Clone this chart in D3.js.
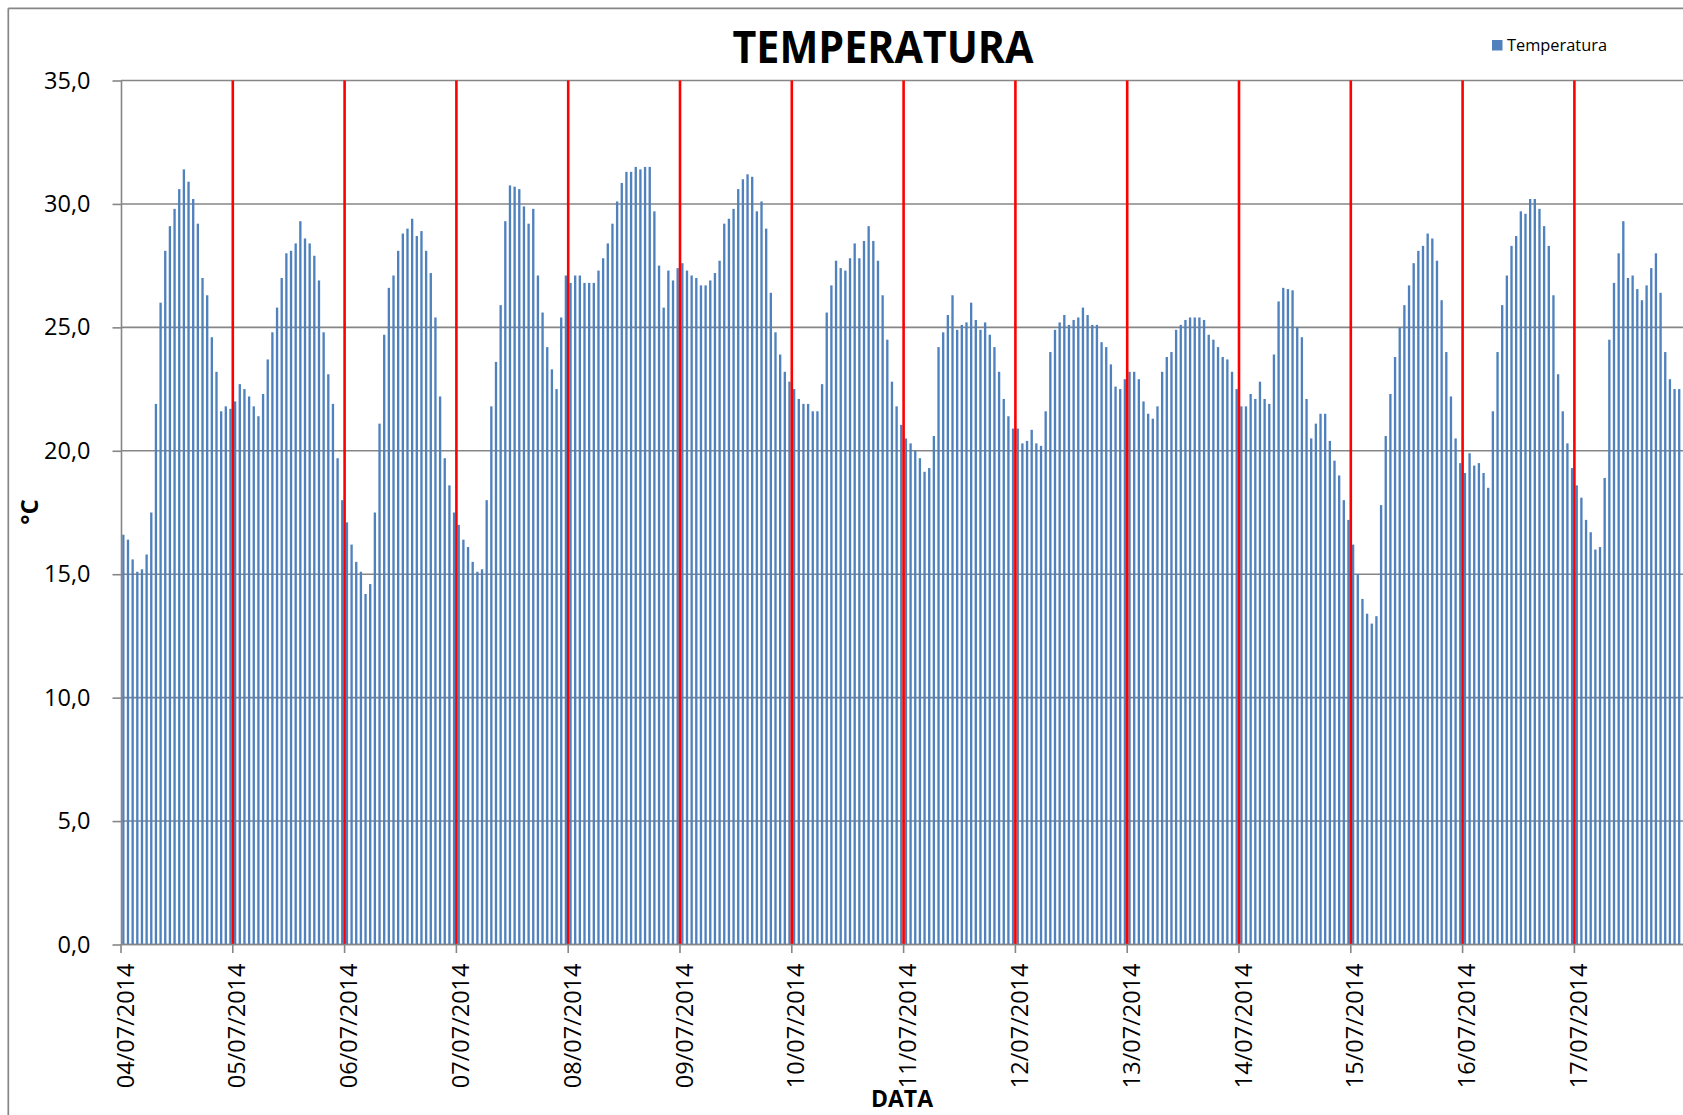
<!DOCTYPE html>
<html><head><meta charset="utf-8">
<script src="https://cdn.jsdelivr.net/npm/d3@7"></script>
<style>
html,body{margin:0;padding:0;background:#fff;overflow:hidden}
svg{display:block}
text{font-family:"Open Sans",sans-serif;fill:#000}
</style></head><body>
<svg id="c" width="1683" height="1115"></svg>
<script>
// ---- data ----
const chartTitle = "TEMPERATURA";
const seriesName = "Temperatura";
const yTitle = "°C";
const xTitle = "DATA";
const dayLabels = ["04/07/2014","05/07/2014","06/07/2014","07/07/2014","08/07/2014","09/07/2014","10/07/2014",
                   "11/07/2014","12/07/2014","13/07/2014","14/07/2014","15/07/2014","16/07/2014","17/07/2014"];
const hoursPerDay = 24;
const yTicks = [0,5,10,15,20,25,30,35];

const t04 = [16.6,16.4,15.6,15.1,15.2,15.8,17.5,21.9,26.0,28.1,29.1,29.8,30.6,31.4,30.9,30.2,29.2,27.0,26.3,24.6,23.2,21.6,21.8,21.7];
const t05 = [22.0,22.7,22.5,22.2,21.8,21.4,22.3,23.7,24.8,25.8,27.0,28.0,28.1,28.4,29.3,28.6,28.4,27.9,26.9,24.8,23.1,21.9,19.7,18.0];
const t06 = [17.1,16.2,15.5,15.1,14.2,14.6,17.5,21.1,24.7,26.6,27.1,28.1,28.8,29.0,29.4,28.7,28.9,28.1,27.2,25.4,22.2,19.7,18.6,17.5];
const t07 = [17.0,16.4,16.1,15.5,15.1,15.2,18.0,21.8,23.6,25.9,29.3,30.75,30.7,30.6,29.9,29.2,29.8,27.1,25.6,24.2,23.3,22.5,25.4,27.1];
const t08 = [26.8,27.1,27.1,26.8,26.8,26.8,27.3,27.8,28.4,29.2,30.1,30.85,31.3,31.3,31.5,31.4,31.5,31.5,29.7,27.5,25.8,27.3,26.9,27.4];
const t09 = [27.6,27.3,27.1,27.0,26.7,26.7,26.9,27.2,27.7,29.2,29.4,29.8,30.6,31.0,31.2,31.1,29.7,30.1,29.0,26.4,24.8,23.9,23.2,22.8];
const t10 = [22.5,22.1,21.9,21.9,21.6,21.6,22.7,25.6,26.7,27.7,27.4,27.3,27.8,28.4,27.8,28.5,29.1,28.5,27.7,26.3,24.5,22.8,21.8,21.05];
const t11 = [20.5,20.3,20.0,19.7,19.15,19.3,20.6,24.2,24.8,25.5,26.3,24.9,25.1,25.2,26.0,25.3,24.9,25.2,24.7,24.2,23.2,22.1,21.4,20.9];
const t12 = [20.9,20.3,20.4,20.85,20.3,20.2,21.6,24.0,24.9,25.2,25.5,25.1,25.3,25.4,25.8,25.5,25.1,25.1,24.4,24.2,23.5,22.6,22.5,22.9];
const t13 = [23.2,23.2,22.9,22.0,21.5,21.3,21.8,23.2,23.8,24.0,24.9,25.1,25.3,25.4,25.4,25.4,25.3,24.7,24.5,24.2,23.8,23.7,23.2,22.5];
const t14 = [21.8,21.8,22.3,22.1,22.8,22.1,21.9,23.9,26.05,26.6,26.55,26.5,25.0,24.6,22.1,20.5,21.1,21.5,21.5,20.4,19.6,19.0,18.0,17.2];
const t15 = [16.2,15.0,14.0,13.4,13.0,13.3,17.8,20.6,22.3,23.8,25.0,25.9,26.7,27.6,28.1,28.3,28.8,28.6,27.7,26.1,24.0,22.2,20.5,19.5];
const t16 = [19.1,19.9,19.4,19.5,19.1,18.5,21.6,24.0,25.9,27.1,28.3,28.7,29.7,29.6,30.2,30.2,29.8,29.1,28.3,26.3,23.1,21.6,20.3,19.3];
const t17 = [18.6,18.1,17.2,16.7,16.0,16.1,18.9,24.5,26.8,28.0,29.3,27.0,27.1,26.55,26.1,26.7,27.4,28.0,26.4,24.0,22.9,22.5,22.5];

// ---- layout ----
const W = 1683, H = 1115;
const plotLeft = 121, plotTop = 80.5, plotBottom = 944.5;
const dayWidth = 111.8;
const nDays = dayLabels.length;
const plotRight = plotLeft + nDays * dayWidth;
const grid = "#868686";

const values = [t04,t05,t06,t07,t08,t09,t10,t11,t12,t13,t14,t15,t16,t17].flat();
const nSlots = nDays * hoursPerDay;

const svg = d3.select("#c");
svg.append("rect").attr("width", W).attr("height", H).attr("fill", "#fff");

const x = d3.scaleBand().domain(d3.range(nSlots)).range([plotLeft, plotRight]).paddingInner(0.5).paddingOuter(0.25);
const xd = d3.scaleLinear().domain([0, nDays]).range([plotLeft, plotRight]);
const y = d3.scaleLinear().domain([0, 35]).range([plotBottom, plotTop]);
const loc = d3.formatLocale({decimal: ",", thousands: ".", grouping: [3], currency: ["", ""]});
const fmt = loc.format(".1f");

// frame
svg.append("line").attr("x1", 8.3).attr("x2", W + 5).attr("y1", 8.3).attr("y2", 8.3).attr("stroke", grid).attr("stroke-width", 1.7);
svg.append("line").attr("x1", 8.3).attr("x2", 8.3).attr("y1", 8.3).attr("y2", H + 5).attr("stroke", grid).attr("stroke-width", 1.7);

// gridlines
svg.append("g").selectAll("line").data(yTicks).join("line")
  .attr("x1", plotLeft).attr("x2", plotRight)
  .attr("y1", d => y(d)).attr("y2", d => y(d))
  .attr("stroke", grid).attr("stroke-width", 1.6);

// bars
svg.append("g").selectAll("rect").data(values).join("rect")
  .attr("x", (d, i) => x(i))
  .attr("width", x.bandwidth())
  .attr("y", d => y(d))
  .attr("height", d => y(0) - y(d))
  .attr("fill", "#4F81BD");

// red day separators
svg.append("g").selectAll("line").data(d3.range(1, nDays)).join("line")
  .attr("x1", d => xd(d)).attr("x2", d => xd(d))
  .attr("y1", y(35)).attr("y2", y(0))
  .attr("stroke", "#FF0000").attr("stroke-width", 2.6);

// y axis
const yAxis = d3.axisLeft(y).tickValues(yTicks).tickFormat(fmt).tickSize(8.5).tickSizeOuter(0).tickPadding(22);
const gy = svg.append("g").attr("transform", `translate(${plotLeft},0)`).call(yAxis);
gy.select(".domain").attr("stroke", grid).attr("stroke-width", 1.6);
gy.selectAll(".tick line").attr("stroke", grid).attr("stroke-width", 1.6);
gy.selectAll(".tick text").attr("font-size", 23.5).attr("font-family", "Open Sans").attr("fill", "#000");

// x axis line and ticks
svg.append("line").attr("x1", plotLeft).attr("x2", plotRight).attr("y1", plotBottom).attr("y2", plotBottom)
  .attr("stroke", grid).attr("stroke-width", 1.6);
svg.append("g").selectAll("line").data(d3.range(0, nDays)).join("line")
  .attr("x1", d => xd(d)).attr("x2", d => xd(d))
  .attr("y1", plotBottom).attr("y2", plotBottom + 8.5)
  .attr("stroke", grid).attr("stroke-width", 1.6);
svg.append("g").selectAll("text").data(dayLabels).join("text")
  .attr("transform", (d, i) => `translate(${xd(i) + 12.5},${plotBottom + 19}) rotate(-90)`)
  .attr("text-anchor", "end")
  .attr("font-size", 23.5)
  .text(d => d);

// titles
svg.append("text").attr("x", 883).attr("y", 63).attr("text-anchor", "middle")
  .attr("font-size", 45).attr("font-weight", "bold")
  .attr("textLength", 301).attr("lengthAdjust", "spacingAndGlyphs")
  .text(chartTitle);
svg.append("text").attr("transform", "translate(38,512) rotate(-90)").attr("text-anchor", "middle")
  .attr("font-size", 24).attr("font-weight", "bold").text(yTitle);
svg.append("text").attr("x", 902).attr("y", 1107).attr("text-anchor", "middle")
  .attr("font-size", 23).attr("font-weight", "bold").text(xTitle);

// legend
svg.append("rect").attr("x", 1492).attr("y", 40).attr("width", 10.5).attr("height", 10.5).attr("fill", "#4F81BD");
svg.append("text").attr("x", 1507).attr("y", 51).attr("font-size", 16)
  .attr("textLength", 100).attr("lengthAdjust", "spacingAndGlyphs").text(seriesName);
</script>
</body></html>
